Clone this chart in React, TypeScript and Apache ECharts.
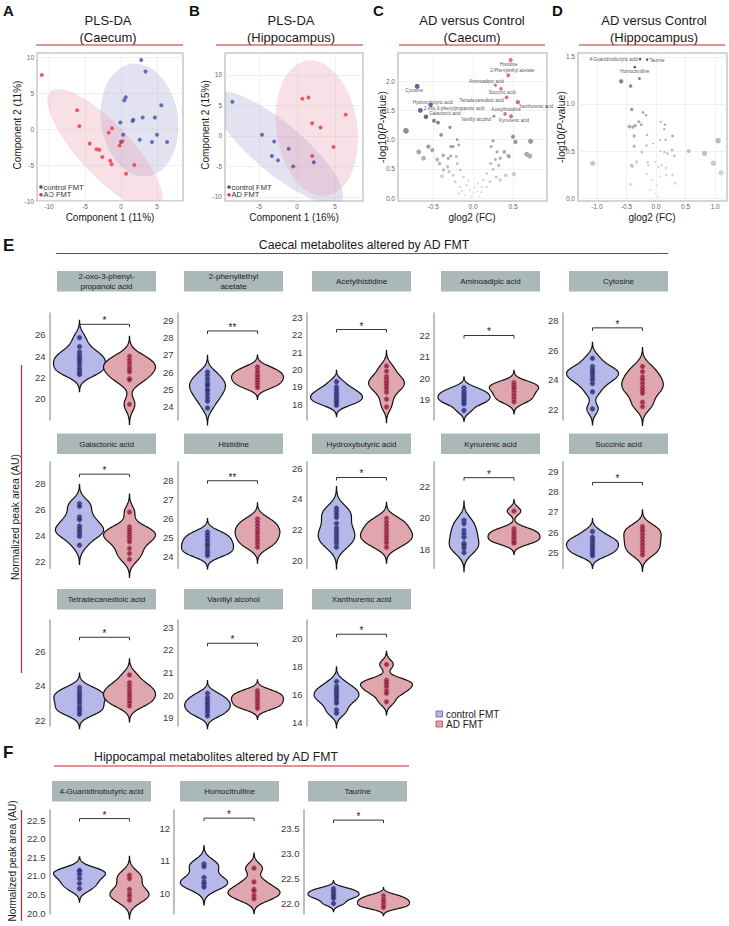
import React, { useEffect, useRef } from "react";
import * as echarts from "echarts";

const FONT = "'Liberation Sans', Arial, Helvetica, sans-serif";

/* ---------------- Panel A: PLS-DA (Caecum) ---------------- */
const plsCaecumControl: number[][] = [
  [2.8, 9.6], [3.4, 8.0], [0.65, 4.4], [0.46, 4.0], [5.6, 3.3], [3.0, 1.6], [4.7, 1.6], [1.7, 1.3],
  [1.6, 1.1], [-0.1, 0.9], [5.0, -0.8], [0.3, -0.8], [2.6, -1.5], [4.3, -1.8], [6.4, -1.8], [0.0, -1.8],
];
const plsCaecumAD: number[][] = [
  [-11.0, 7.5], [-6.1, 2.6], [-5.8, 0.4], [-1.25, 0.1], [-1.7, -0.5], [-4.35, -2.0], [-3.4, -2.8],
  [-3.0, -2.9], [0.2, -1.7], [-0.2, -2.3], [-2.6, -3.9], [-1.5, -4.4], [-1.3, -4.9], [1.85, -5.0], [0.7, -6.2],
];
// confidence ellipses: centre, two semi-axis vectors (data units)
const plsCaecumEllipseControl = { c: [2.57, 1.25], u: [-1.1, 7.8], v: [5.3, 0.7] };
const plsCaecumEllipseAD = { c: [-2.2, -2.9], u: [7.6, -8.1], v: [2.6, 2.5] };
const plsCaecumXTicks = [-10, -5, 0, 5];
const plsCaecumYTicks = [-10, -5, 0, 5, 10];

/* ---------------- Panel B: PLS-DA (Hippocampus) ---------------- */
const plsHippoControl: number[][] = [
  [-8.5, 5.6], [-4.6, 0.2], [-3.0, -0.9], [-1.1, -2.1], [-3.3, -3.3], [-2.5, -4.0], [-0.5, -5.0], [2.2, -4.3],
];
const plsHippoAD: number[][] = [
  [0.7, 6.1], [1.5, 6.3], [2.0, 2.1], [3.1, 1.4], [6.4, 3.5], [4.8, -1.8], [2.0, -3.3],
];
const plsHippoEllipseControl = { c: [-2.5, -1.97], u: [8.3, -8.7], v: [2.1, 3.1] };
const plsHippoEllipseAD = { c: [2.6, 1.26], u: [-1.3, 11.1], v: [5.26, 0.98] };
const plsHippoXTicks = [-5, 0, 5];
const plsHippoYTicks = [-10, -5, 0, 5, 10];

/* ---------------- Panel C: volcano (Caecum) ---------------- */
const volcanoCaecumOther: number[][] = [
  [-0.84, 1.15], [-0.44, 1.29], [-0.49, 1.32], [-0.29, 1.21], [-0.4, 1.08], [-0.2, 1.0], [-0.56, 0.88],
  [-0.68, 0.79], [-0.51, 0.82], [-0.375, 0.73], [-0.62, 0.68], [-0.45, 0.66], [-0.42, 0.59], [-0.28, 0.88],
  [-0.25, 0.88], [-0.18, 0.91], [-0.28, 0.72], [-0.21, 0.71], [-0.2, 0.59], [-0.32, 0.535], [-0.37, 0.48],
  [-0.3, 0.45], [-0.39, 0.375], [-0.25, 0.39], [-0.16, 0.48], [-0.12, 0.36], [-0.225, 0.28], [-0.08, 0.22],
  [-0.04, 0.14], [0.0, 0.08], [0.05, 0.11], [0.11, 0.19], [0.13, 0.31], [0.17, 0.42], [0.22, 0.59],
  [0.25, 0.49], [0.225, 0.88], [0.25, 0.98], [0.3, 0.79], [0.34, 0.68], [0.28, 0.66], [0.32, 0.56],
  [0.39, 0.79], [0.5, 1.05], [0.53, 0.96], [0.44, 0.72], [0.45, 0.71], [0.67, 0.75], [0.71, 0.72],
  [0.72, 0.97], [0.51, 0.41], [0.41, 0.39], [0.29, 0.36], [0.21, 0.28], [0.17, 0.19], [-0.16, 0.19],
  [-0.18, 0.08], [0.34, 0.31], [-0.31, 0.68], [-0.1, 0.05], [0.08, 0.03], [-0.06, 0.3], [0.06, 0.25],
  [0.1, 0.1], [-0.14, 0.12], [0.02, 0.18], [-0.02, 0.02],
];
const volcanoCaecumUpNames = [
  "Histidine", "2-Phenylethyl acetate", "Aminoadipic acid", "Succinic acid", "Tetradecanedioic acid",
  "Xanthurenic acid", "Acetylhistidine", "Kynurenic acid", "Vanillyl alcohol",
];
const volcanoCaecumUp: number[][] = [
  [0.47, 2.36], [0.44, 2.1], [0.28, 1.93], [0.35, 1.87], [0.42, 1.72], [0.56, 1.64], [0.4, 1.44], [0.475, 1.4], [0.26, 1.4],
];
const volcanoCaecumDownNames = ["Cytosine", "Hydroxybutyric acid", "2-oxo-3-phenylpropanoic acid", "Galactonic acid"];
const volcanoCaecumDown: number[][] = [[-0.7, 1.91], [-0.53, 1.59], [-0.66, 1.5], [-0.59, 1.39]];
const volcanoCaecumXTicks = [-0.5, 0, 0.5];
const volcanoCaecumYTicks = [0, 0.5, 1, 1.5, 2];

/* ---------------- Panel D: volcano (Hippocampus) ---------------- */
const volcanoHippoOther: number[][] = [
  [-0.59, 1.24], [-0.43, 1.19], [-0.28, 1.27], [-0.41, 0.94], [-0.22, 0.91], [-0.17, 0.88], [-0.29, 0.81],
  [-0.45, 0.76], [-0.39, 0.755], [-0.35, 0.77], [-0.25, 0.78], [0.08, 0.81], [0.15, 0.78], [0.14, 0.73],
  [-0.37, 0.66], [0.28, 0.66], [-0.15, 0.67], [0.07, 0.62], [0.16, 0.62], [-0.37, 0.55], [-0.16, 0.56],
  [-0.05, 0.58], [0.27, 0.51], [0.55, 0.5], [0.82, 0.475], [1.05, 0.61], [0.97, 0.37], [1.1, 0.27],
  [-1.07, 0.37], [-0.24, 0.49], [0.07, 0.5], [0.14, 0.49], [0.19, 0.475], [0.31, 0.45], [-0.33, 0.385],
  [-0.42, 0.35], [-0.4, 0.34], [-0.14, 0.38], [-0.13, 0.35], [-0.02, 0.385], [0.04, 0.33], [0.1, 0.35],
  [0.17, 0.32], [0.28, 0.245], [0.32, 0.16], [-0.43, 0.145], [-0.16, 0.26], [-0.07, 0.19], [0.01, 0.14],
  [0.07, 0.23], [0.17, 0.245], [-0.1, 0.085], [-0.02, 0.05], [0.04, 0.015], [-0.04, 0.0],
];
const volcanoHippoSigNames = ["4-Guanidinobutyric acid", "Taurine", "Homocitrulline"];
const volcanoHippoSig: number[][] = [[-0.27, 1.475], [-0.15, 1.47], [-0.36, 1.39]];
const volcanoHippoXTicks = [-1, -0.5, 0, 0.5, 1];
const volcanoHippoYTicks = [0, 0.5, 1, 1.5];

/* ---------------- Panel E: caecal metabolites ---------------- */
const caecalNames = [
  "2-oxo-3-phenyl-\npropanoic acid", "2-phenyllethyl\nacetate", "Acetylhistidine", "Aminoadipic acid", "Cytosine",
  "Galactonic acid", "Histidine", "Hydroxybutyric acid", "Kynurenic acid", "Succinic acid",
  "Tetradecanedioic acid", "Vanillyl alcohol", "Xanthurenic acid",
];
const caecalControl: number[][] = [
  [25.75, 24.9, 24.4, 24.1, 23.9, 23.7, 23.45, 23.2, 22.9, 22.7, 22.5, 22.3],
  [26.0, 25.8, 25.6, 25.4, 25.3, 25.2, 25.0, 24.9, 24.7, 24.5, 24.3, 23.9],
  [19.3, 19.0, 18.85, 18.7, 18.6, 18.5, 18.4, 18.3, 18.2, 18.1, 17.95],
  [19.55, 19.4, 19.3, 19.2, 19.1, 19.0, 18.9, 18.8, 18.5],
  [25.45, 24.9, 24.7, 24.55, 24.4, 24.2, 24.0, 23.75, 23.2, 22.05],
  [26.42, 26.22, 25.4, 25.2, 24.7, 24.5, 24.33, 24.13, 23.92, 23.23],
  [25.3, 25.15, 25.0, 24.85, 24.7, 24.6, 24.45, 24.3, 24.2, 24.07],
  [23.4, 23.2, 23.0, 22.8, 22.4, 22.1, 21.9, 21.7, 21.5, 21.3, 21.1, 20.85],
  [19.83, 19.62, 19.2, 18.99, 18.77, 18.39, 18.25, 18.08, 17.79],
  [26.03, 25.75, 25.65, 25.53, 25.42, 25.32, 25.2, 25.08, 24.95, 24.83],
  [23.9, 23.72, 23.56, 23.43, 23.3, 23.15, 22.99, 22.8, 22.67, 22.53, 22.38],
  [20.07, 19.9, 19.78, 19.66, 19.56, 19.46, 19.34, 19.22, 19.08],
  [16.95, 16.59, 16.4, 16.24, 16.07, 15.93, 15.76, 15.56, 15.4, 14.92, 14.68],
];
const caecalAD: number[][] = [
  [24.0, 23.65, 23.35, 23.0, 22.8, 22.55, 21.9, 21.8, 19.5],
  [26.3, 26.1, 25.95, 25.8, 25.7, 25.55, 25.4, 25.25, 25.1],
  [20.2, 19.9, 19.6, 19.45, 19.3, 19.2, 19.05, 18.9, 18.7, 18.3, 17.85],
  [19.8, 19.7, 19.6, 19.5, 19.35, 19.2, 19.05, 18.9],
  [24.9, 24.55, 24.2, 24.0, 23.75, 23.5, 23.3, 23.1, 22.5, 22.2],
  [25.78, 24.64, 24.44, 24.25, 24.05, 23.87, 23.67, 23.49, 22.98, 22.6, 22.14],
  [26.0, 25.82, 25.65, 25.47, 25.33, 25.21, 25.03, 24.86, 24.69, 24.51],
  [22.74, 22.48, 22.26, 22.04, 21.83, 21.65, 21.5, 21.32, 21.13, 20.85],
  [20.42, 19.3, 19.13, 18.99, 18.82, 18.67, 18.52, 18.39],
  [26.28, 26.16, 26.03, 25.86, 25.7, 25.53, 25.37, 25.2, 25.03, 24.87],
  [24.63, 24.19, 24.0, 23.81, 23.66, 23.52, 23.37, 23.18, 23.04, 22.85],
  [20.19, 20.07, 19.96, 19.85, 19.75, 19.63, 19.51, 19.41],
  [18.17, 17.04, 16.92, 16.76, 16.57, 16.28, 16.1, 15.5],
];
const caecalAxisMin = [18.03, 23.2, 17.1, 18.05, 21.3, 21.45, 23.4, 19.48, 16.8, 24.2, 21.7, 18.63, 13.76];
const caecalAxisMax = [28.06, 29.45, 23.25, 23.05, 28.5, 29.66, 29.0, 26.43, 23.54, 29.5, 27.78, 23.32, 21.36];
const caecalTicks: number[][] = [
  [20, 22, 24, 26], [24, 25, 26, 27, 28, 29], [18, 19, 20, 21, 22, 23], [19, 20, 21, 22], [22, 24, 26, 28],
  [22, 24, 26, 28], [24, 25, 26, 27, 28], [20, 22, 24, 26], [18, 20, 22], [25, 26, 27, 28, 29],
  [22, 24, 26], [19, 20, 21, 22, 23], [14, 16, 18, 20],
];
const caecalBracket = [27.0, 28.4, 22.3, 22.0, 27.5, 28.7, 28.0, 25.4, 22.53, 28.47, 26.79, 22.29, 20.34];
const caecalStars = ["*", "**", "*", "*", "*", "*", "**", "*", "*", "*", "*", "*", "*"];

/* ---------------- Panel F: hippocampal metabolites ---------------- */
const hippoNames = ["4-Guanidinobutyric acid", "Homocitrulline", "Taurine"];
const hippoControl: number[][] = [
  [21.15, 21.13, 21.04, 20.93, 20.8, 20.66],
  [10.9, 10.82, 10.48, 10.35, 10.28, 10.19],
  [22.3, 22.25, 22.2, 22.16, 22.11, 22.01],
];
const hippoAD: number[][] = [
  [21.02, 20.93, 20.64, 20.53, 20.46, 20.35],
  [10.77, 10.35, 10.12, 10.07, 9.93, 9.83],
  [22.16, 22.09, 22.04, 21.98, 21.93],
];
const hippoAxisMin = [19.98, 9.36, 21.8];
const hippoAxisMax = [22.77, 12.56, 23.86];
const hippoTicks: number[][] = [[20.0, 20.5, 21.0, 21.5, 22.0, 22.5], [10, 11, 12], [22.0, 22.5, 23.0, 23.5]];
const hippoTickDecimals = [1, 0, 1];
const hippoBracket = [22.54, 12.31, 23.66];
const hippoStars = ["*", "*", "*"];

const groupLabels = ["control FMT", "AD FMT"];

/* ---------------- styling / layout ---------------- */
const RED_LINE = "#c4262e";
const BLUE_FILL = "#b5b8e8";
const RED_FILL = "#e0a6ad";
const HEAD_FILL = "#aab8b8";
const VIOLIN_HALF = 26;

const E_AXIS_X = [49.5, 177.5, 306.5, 434, 562.5];
const E_ROWS = [[313, 420], [461.7, 568.3], [620, 726]];
const E_HEAD_X = [57, 184, 312, 441, 569];
const E_HEAD_Y = [271, 433.5, 589];
const F_AXIS_X = [49.5, 174, 303.5];
const F_ROW = [810, 914];
const F_HEAD_X = [52, 180, 308];
const F_HEAD_Y = 781;

function kde(values: number[]): number[][] {
  const n = values.length;
  const mean = values.reduce((a, b) => a + b, 0) / n;
  const sd = Math.sqrt(values.reduce((a, b) => a + (b - mean) * (b - mean), 0) / (n - 1));
  const s = [...values].sort((a, b) => a - b);
  const q = (p: number) => {
    const h = (n - 1) * p;
    const lo = Math.floor(h);
    const hi = Math.min(lo + 1, n - 1);
    return s[lo] + (h - lo) * (s[hi] - s[lo]);
  };
  const iqr = q(0.75) - q(0.25);
  let lo = Math.min(sd, iqr / 1.34);
  if (!(lo > 0)) lo = sd;
  const bw = 0.9 * lo * Math.pow(n, -0.2);
  const y0 = s[0] - 3 * bw;
  const y1 = s[n - 1] + 3 * bw;
  const out: number[][] = [];
  const steps = 90;
  for (let i = 0; i <= steps; i++) {
    const y = y0 + ((y1 - y0) * i) / steps;
    let d = 0;
    for (const v of values) d += Math.exp(-0.5 * ((y - v) / bw) ** 2);
    d /= n * bw * Math.sqrt(2 * Math.PI);
    out.push([y, d]);
  }
  return out;
}

function ellipsePts(e: { c: number[]; u: number[]; v: number[] }): number[][] {
  const pts: number[][] = [];
  for (let i = 0; i < 96; i++) {
    const t = (i / 96) * Math.PI * 2;
    pts.push([e.c[0] + e.u[0] * Math.cos(t) + e.v[0] * Math.sin(t), e.c[1] + e.u[1] * Math.cos(t) + e.v[1] * Math.sin(t)]);
  }
  return pts;
}

function buildOption() {
  const grids: any[] = [];
  const xAxes: any[] = [];
  const yAxes: any[] = [];
  const series: any[] = [];
  const graphic: any[] = [];

  const txt = (x: number, y: number, text: string, size: number, extra: any = {}, elExtra: any = {}) =>
    graphic.push({
      type: "text", x, y, silent: true, ...elExtra,
      style: { text, fontSize: size, fontFamily: FONT, fill: "#1a1a1a", textAlign: "center", textVerticalAlign: "middle", ...extra },
    });
  const hline = (x1: number, x2: number, y: number) =>
    graphic.push({ type: "line", silent: true, shape: { x1, y1: y, x2, y2: y }, style: { stroke: RED_LINE, lineWidth: 1.2 } });
  const vline = (x: number, y1: number, y2: number) =>
    graphic.push({ type: "line", silent: true, shape: { x1: x, y1, x2: x, y2 }, style: { stroke: RED_LINE, lineWidth: 1.2 } });

  /* ---- scatter-type panels A-D ---- */
  const addScatterGrid = (
    box: number[], xr: number[], yr: number[], xt: number[], yt: number[], dec: number
  ) => {
    const idx = grids.length;
    grids.push({ left: box[0], top: box[1], width: box[2], height: box[3], show: true, borderColor: "#c6c6c6", borderWidth: 1.5, backgroundColor: "#fff" });
    const common = (ticks: number[], margin: number) => ({
      axisLine: { show: false },
      axisTick: { show: false, customValues: ticks },
      axisLabel: { customValues: ticks, fontSize: 6.5, color: "#666", margin, fontFamily: FONT, formatter: (v: number) => v.toFixed(dec) },
      splitLine: { show: true, lineStyle: { color: "#ededed", width: 0.8 } },
    });
    xAxes.push({ type: "value", gridIndex: idx, min: xr[0], max: xr[1], ...common(xt, 2) });
    yAxes.push({ type: "value", gridIndex: idx, min: yr[0], max: yr[1], ...common(yt, 3) });
    return idx;
  };

  const addEllipse = (idx: number, e: any, fill: string) =>
    series.push({
      type: "custom", xAxisIndex: idx, yAxisIndex: idx, clip: true, silent: true, z: 1,
      data: [[e.c[0], e.c[1]]],
      renderItem: (_p: any, api: any) => ({
        type: "polygon",
        shape: { points: ellipsePts(e).map((p) => api.coord(p)) },
        style: { fill, stroke: "none" },
      }),
    });

  const plsPanel = (box: number[], xr: number[], yr: number[], xt: number[], yt: number[], ctrl: number[][], ad: number[][], eC: any, eA: any) => {
    const idx = addScatterGrid(box, xr, yr, xt, yt, 0);
    addEllipse(idx, eC, "rgba(150,150,205,0.28)");
    addEllipse(idx, eA, "rgba(232,160,180,0.32)");
    series.push({ type: "scatter", xAxisIndex: idx, yAxisIndex: idx, data: ctrl, symbolSize: 4, itemStyle: { color: "#4b4bab" }, silent: true, z: 3 });
    series.push({ type: "scatter", xAxisIndex: idx, yAxisIndex: idx, data: ad, symbolSize: 4, itemStyle: { color: "#e8383d" }, silent: true, z: 3 });
    // inner legend
    const lx = box[0] + 4;
    const ly = box[1] + box[3] - 14;
    graphic.push({ type: "circle", silent: true, shape: { cx: lx, cy: ly, r: 1.8 }, style: { fill: "#4b4bab" } });
    graphic.push({ type: "circle", silent: true, shape: { cx: lx, cy: ly + 7.7, r: 1.8 }, style: { fill: "#e8383d" } });
    txt(lx + 2.5, ly, groupLabels[0], 7.5, { textAlign: "left", fill: "#333" });
    txt(lx + 2.5, ly + 7.7, groupLabels[1], 7.5, { textAlign: "left", fill: "#333" });
  };

  plsPanel([37, 53, 146, 148], [-11.67, 8.61], [-10.0, 10.56], plsCaecumXTicks, plsCaecumYTicks, plsCaecumControl, plsCaecumAD, plsCaecumEllipseControl, plsCaecumEllipseAD);
  plsPanel([225, 53, 138, 148], [-9.47, 8.68], [-10.66, 13.6], plsHippoXTicks, plsHippoYTicks, plsHippoControl, plsHippoAD, plsHippoEllipseControl, plsHippoEllipseAD);

  const grayColor = (y: number, ymax: number) => {
    const g = Math.round(226 - 128 * Math.min(y / ymax, 1));
    return `rgb(${g},${g},${g})`;
  };

  const volcanoPanel = (
    box: number[], xr: number[], yr: number[], xt: number[], yt: number[], other: number[][],
    sizeK: number, ymaxC: number,
    labelled: { names: string[]; pts: number[][]; color: string; size?: number; pos: Record<string, any[]> }[]
  ) => {
    const idx = addScatterGrid(box, xr, yr, xt, yt, 1);
    const size = (x: number) => 1.8 + sizeK * Math.min(Math.abs(x), 0.85);
    series.push({
      type: "scatter", xAxisIndex: idx, yAxisIndex: idx, silent: true, z: 2,
      data: other,
      symbolSize: (v: number[]) => size(v[0]),
      itemStyle: { color: (p: any) => grayColor(p.value[1], ymaxC) },
    });
    for (const L of labelled) {
      series.push({
        type: "scatter", xAxisIndex: idx, yAxisIndex: idx, silent: true, z: 4,
        data: L.names.map((n, i) => ({
          name: n, value: L.pts[i],
          label: { show: true, position: L.pos[n][0], offset: [L.pos[n][1], L.pos[n][2]] },
        })),
        symbolSize: (v: number[]) => (L.size ? L.size : size(v[0])),
        itemStyle: { color: L.color },
        label: { formatter: "{b}", fontSize: 4.6, color: "#1a1a1a", distance: 1, fontFamily: FONT },
      });
    }
  };

  volcanoPanel([398, 53, 149, 148], [-0.94, 0.925], [-0.05, 2.48], volcanoCaecumXTicks, volcanoCaecumYTicks, volcanoCaecumOther, 4.6, 1.3, [
    {
      names: volcanoCaecumUpNames, pts: volcanoCaecumUp, color: "#d4456a",
      pos: {
        "Histidine": ["bottom", -2, -1], "2-Phenylethyl acetate": ["top", 4, 1], "Aminoadipic acid": ["top", -9, 1],
        "Succinic acid": ["bottom", 1, -1], "Tetradecanedioic acid": ["left", 0, 3], "Xanthurenic acid": ["right", -2, 4],
        "Acetylhistidine": ["top", 1, 1], "Kynurenic acid": ["bottom", 3, -1], "Vanillyl alcohol": ["left", 0, 3],
      },
    },
    {
      names: volcanoCaecumDownNames, pts: volcanoCaecumDown, color: "#3c3f78",
      pos: {
        "Cytosine": ["bottom", -3, -2], "Hydroxybutyric acid": ["top", 2, 3],
        "2-oxo-3-phenylpropanoic acid": ["right", 0, -2], "Galactonic acid": ["right", 0, -3],
      },
    },
  ]);
  volcanoPanel([578, 53, 149, 148], [-1.32, 1.2], [-0.03, 1.54], volcanoHippoXTicks, volcanoHippoYTicks, volcanoHippoOther, 4.2, 1.3, [
    {
      names: volcanoHippoSigNames, pts: volcanoHippoSig, color: "#333", size: 2.6,
      pos: { "4-Guanidinobutyric acid": ["left", 0, 0], "Taurine": ["right", 0, 1], "Homocitrulline": ["bottom", 0, 0] },
    },
  ]);

  /* ---- violin panels ---- */
  const violinPanel = (
    axisX: number, top: number, bottom: number, ymin: number, ymax: number, ticks: number[], dec: number,
    ctrl: number[], ad: number[], bracket: number, star: string
  ) => {
    const idx = grids.length;
    grids.push({ left: axisX, top, width: 110, height: bottom - top });
    xAxes.push({ type: "value", gridIndex: idx, min: 0.4, max: 2.6, show: false });
    yAxes.push({
      type: "value", gridIndex: idx, min: ymin, max: ymax,
      axisLine: { show: true, lineStyle: { color: "#a9a9a9", width: 1.5 } },
      axisTick: { show: false, customValues: ticks },
      axisLabel: { customValues: ticks, fontSize: 9.5, color: "#3a3a3a", margin: 4, fontFamily: FONT, formatter: (v: number) => v.toFixed(dec) },
      splitLine: { show: false },
    });
    const dens = [kde(ctrl), kde(ad)];
    const dmax = Math.max(...dens[0].map((p) => p[1]), ...dens[1].map((p) => p[1]));
    series.push({
      type: "custom", xAxisIndex: idx, yAxisIndex: idx, silent: true, z: 2,
      data: [[1, ctrl[0]], [2, ad[0]]],
      renderItem: (params: any, api: any) => {
        const k = params.dataIndex;
        const right: number[][] = [];
        const left: number[][] = [];
        for (const [y, d] of dens[k]) {
          const c = api.coord([k + 1, y]);
          const w = (VIOLIN_HALF * d) / dmax;
          right.push([c[0] + w, c[1]]);
          left.push([c[0] - w, c[1]]);
        }
        return {
          type: "polygon",
          shape: { points: right.concat(left.reverse()) },
          style: { fill: k === 0 ? BLUE_FILL : RED_FILL, stroke: "#111", lineWidth: 1.2 },
        };
      },
    });
    series.push({
      type: "scatter", xAxisIndex: idx, yAxisIndex: idx, silent: true, z: 3, symbolSize: 5,
      data: ctrl.map((v) => [1, v]),
      itemStyle: { color: "#26266a", borderColor: "#6d6db5", borderWidth: 0.7 },
    });
    series.push({
      type: "scatter", xAxisIndex: idx, yAxisIndex: idx, silent: true, z: 3, symbolSize: 5,
      data: ad.map((v) => [2, v]),
      itemStyle: { color: "#8a1838", borderColor: "#cf6a86", borderWidth: 0.7 },
    });
    series.push({
      type: "custom", xAxisIndex: idx, yAxisIndex: idx, silent: true, z: 4,
      data: [[1.5, bracket]],
      renderItem: (_p: any, api: any) => {
        const a = api.coord([1, bracket]);
        const b = api.coord([2, bracket]);
        return {
          type: "group",
          children: [
            {
              type: "polyline",
              shape: { points: [[a[0], a[1] + 3], [a[0], a[1]], [b[0], b[1]], [b[0], b[1] + 3]] },
              style: { stroke: "#333", lineWidth: 1, fill: "none" },
            },
            {
              type: "text", x: (a[0] + b[0]) / 2, y: a[1] + 1.5,
              style: { text: star, textAlign: "center", textVerticalAlign: "bottom", fontSize: 10, fill: "#222", fontFamily: FONT },
            },
          ],
        };
      },
    });
  };

  caecalNames.forEach((name, i) => {
    const r = Math.floor(i / 5);
    const c = i % 5;
    violinPanel(E_AXIS_X[c], E_ROWS[r][0], E_ROWS[r][1], caecalAxisMin[i], caecalAxisMax[i], caecalTicks[i], 0,
      caecalControl[i], caecalAD[i], caecalBracket[i], caecalStars[i]);
    graphic.push({ type: "rect", silent: true, shape: { x: E_HEAD_X[c], y: E_HEAD_Y[r], width: 99, height: 20.5 }, style: { fill: HEAD_FILL } });
    txt(E_HEAD_X[c] + 49.5, E_HEAD_Y[r] + 10.6, name, 8, { lineHeight: 10, fill: "#1c1c1c" });
  });
  hippoNames.forEach((name, i) => {
    violinPanel(F_AXIS_X[i], F_ROW[0], F_ROW[1], hippoAxisMin[i], hippoAxisMax[i], hippoTicks[i], hippoTickDecimals[i],
      hippoControl[i], hippoAD[i], hippoBracket[i], hippoStars[i]);
    graphic.push({ type: "rect", silent: true, shape: { x: F_HEAD_X[i], y: F_HEAD_Y, width: 99, height: 20.5 }, style: { fill: HEAD_FILL } });
    txt(F_HEAD_X[i] + 49.5, F_HEAD_Y + 10.6, name, 8, { fill: "#1c1c1c" });
  });

  /* ---- panel letters, titles, rules ---- */
  const letter = (x: number, y: number, t: string, s = 15) => txt(x, y, t, s, { textAlign: "left", fontWeight: "bold", fill: "#111" });
  letter(3, 10, "A");
  letter(189, 10, "B");
  letter(373, 10, "C");
  letter(552, 10, "D");
  letter(3, 245, "E", 17);
  letter(3, 752, "F", 17);

  const title2 = (x: number, l1: string, l2: string) => {
    txt(x, 20, l1, 13);
    txt(x, 37, l2, 13);
  };
  title2(108, "PLS-DA", "(Caecum)");
  title2(291, "PLS-DA", "(Hippocampus)");
  title2(472, "AD versus Control", "(Caecum)");
  title2(654, "AD versus Control", "(Hippocampus)");
  hline(36, 183, 45);
  hline(216, 363, 45);
  hline(399, 545, 45);
  hline(579, 725, 45);

  // axis titles A-D
  txt(110, 217, "Component 1 (11%)", 10);
  txt(294, 217, "Component 1 (16%)", 10);
  txt(472, 217, "glog2 (FC)", 10);
  txt(652, 217, "glog2 (FC)", 10);
  const rot = { rotation: Math.PI / 2 };
  txt(17, 125, "Component 2 (11%)", 10, {}, rot);
  txt(205, 125, "Component 2 (15%)", 10, {}, rot);
  txt(382, 127, "-log10({i|P}-value)", 10.5, { rich: { i: { fontStyle: "italic", fontSize: 10.5, fontFamily: FONT } } }, rot);
  txt(561, 127, "-log10({i|P}-value)", 10.5, { rich: { i: { fontStyle: "italic", fontSize: 10.5, fontFamily: FONT } } }, rot);

  // section E / F titles
  txt(364, 245, "Caecal metabolites altered by AD FMT", 12.3);
  hline(56, 668, 253.5);
  txt(216, 757, "Hippocampal metabolites altered by AD FMT", 12.3);
  hline(54, 409, 766);

  txt(15, 517, "Normalized peak area (AU)", 10.4, {}, rot);
  vline(21.5, 365, 673);
  txt(12, 861, "Normalized peak area (AU)", 10, {}, rot);
  vline(21.5, 810, 921);

  // bottom legend
  graphic.push({ type: "rect", silent: true, shape: { x: 436, y: 711, width: 6.5, height: 6 }, style: { fill: BLUE_FILL, stroke: "#5d5da5", lineWidth: 0.8 } });
  graphic.push({ type: "rect", silent: true, shape: { x: 436, y: 721, width: 6.5, height: 6 }, style: { fill: RED_FILL, stroke: "#a54a5e", lineWidth: 0.8 } });
  txt(446, 714, groupLabels[0], 10, { textAlign: "left" });
  txt(446, 724, groupLabels[1], 10, { textAlign: "left" });

  return {
    animation: false,
    backgroundColor: "#fff",
    textStyle: { fontFamily: FONT },
    grid: grids,
    xAxis: xAxes,
    yAxis: yAxes,
    series,
    graphic: { elements: graphic },
  };
}

export default function App() {
  const ref = useRef<HTMLDivElement>(null);
  useEffect(() => {
    if (!ref.current) return;
    const chart = echarts.init(ref.current, null, { renderer: "svg" });
    chart.setOption(buildOption() as any);
    return () => chart.dispose();
  }, []);
  return (
    <div
      ref={ref}
      style={{ position: "absolute", left: 0, top: 0, width: 729, height: 926, background: "#fff" }}
    />
  );
}
